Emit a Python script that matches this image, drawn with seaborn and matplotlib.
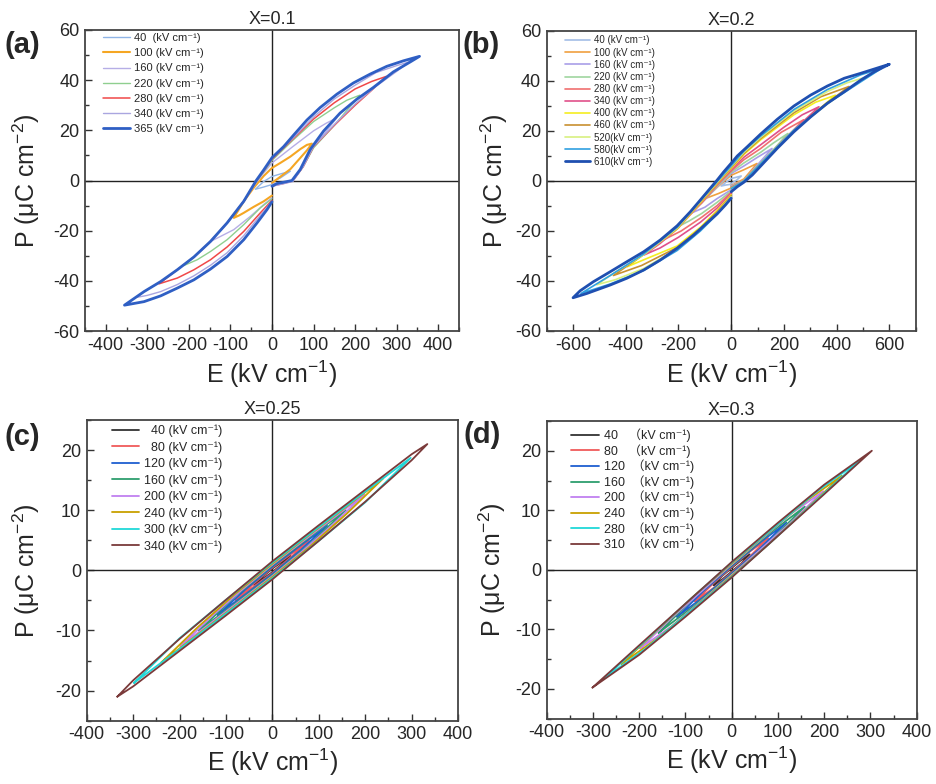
import numpy as np
import pandas as pd
import matplotlib
matplotlib.use("Agg")
import matplotlib.pyplot as plt
import seaborn as sns
from matplotlib.ticker import MultipleLocator

SUP1 = "\u207b\u00b9"  # superscript -1

# ---------------- panel (a): X=0.1 ----------------
A_FIELDS = ["40 ", "100", "160", "220", "280", "340", "365"]
A_E = [
    [0, 20, 44, 20, 0, -20, -40, -20, 0],
    [0, 20, 44, 68, 84, 96, 84, 68, 44, 20, 0, -20, -44, -68, -92, -80, -68, -44, -20, 0],
    [0, 25, 50, 75, 100, 130, 156, 130, 100, 50, 0, -20, -38, -68, -108, -148, -124, -92, -52, -20, 0],
    [0, 25, 50, 75, 100, 150, 211, 180, 150, 100, 50, 0, -20, -38, -68, -108, -148, -180, -212,
     -180, -148, -108, -68, -28, 0],
    [0, 25, 50, 75, 100, 150, 200, 240, 275, 240, 200, 150, 100, 50, 0, -20, -38, -68, -108, -148, -188, -228,
     -272, -228, -188, -148, -108, -68, -28, 0],
    [0, 25, 50, 75, 100, 150, 200, 250, 300, 330, 300, 250, 200, 150, 100, 50, 0, -20, -38, -68, -108, -148,
     -188, -228, -268, -300, -326, -300, -268, -228, -188, -148, -108, -68, -36, 0],
    [0, 12, 28, 48, 68, 92, 124, 164, 204, 244, 292, 333, 355,
     316, 276, 236, 196, 156, 116, 84, 52, 28, 0, -20, -38, -68, -108, -148, -188, -228, -268, -308, -355,
     -308, -268, -228, -188, -148, -108, -68, -36, -12, 0],
]
A_P = [
    [-0.5, 1.0, 3.7, 2.6, 1.6, -0.4, -3.5, -2.6, -1.6],
    [-1.0, 1.5, 4.5, 9.0, 12.0, 14.7, 14.2, 12.5, 9.5, 7.0, 5.0, 1.8, -2.9, -8.3, -14.9, -14.0, -12.9, -10.5,
     -8.3, -6.0],
    [-1.5, -1.0, 0.0, 5.5, 13.5, 19.5, 25.0, 22.8, 19.8, 13.5, 7.0, 3.0, -0.8, -8.3, -16.9, -24.3, -22.3, -19.6,
     -14.3, -9.6, -6.9],
    [-2.0, -1.2, 0.0, 5.5, 13.0, 22.0, 34.0, 32.0, 29.0, 23.5, 16.0, 8.0, 3.5, -0.5, -8.3, -16.9, -24.3, -29.3,
     -33.9, -31.6, -28.3, -23.6, -17.6, -10.9, -7.3],
    [-2.2, -1.3, -0.2, 5.5, 13.5, 22.0, 30.0, 36.0, 41.5, 39.5, 36.5, 31.0, 24.5, 16.5, 8.5, 3.8, -0.3, -8.3,
     -16.9, -24.3, -30.5, -35.6, -41.2, -38.9, -35.6, -31.6, -26.5, -20.3, -12.9, -7.9],
    [-2.3, -1.4, -0.4, 5.5, 13.6, 22.3, 30.5, 37.5, 43.5, 47.3, 45.8, 43.0, 38.0, 32.5, 25.3, 16.8, 8.8, 4.0,
     -0.2, -8.3, -16.9, -24.3, -30.5, -35.6, -40.3, -43.5, -46.6, -45.8, -44.3, -41.5, -38.0, -33.8, -28.8,
     -22.0, -15.5, -8.3],
    [-2.3, -1.2, -0.7, 0.0, 4.4, 12.4, 19.7, 26.9, 32.4, 37.1, 43.3, 47.3, 49.5,
     47.7, 45.5, 42.4, 38.9, 34.4, 29.1, 24.1, 18.1, 13.5, 9.1, 4.2, 0.0, -8.3, -16.9, -24.3, -30.5, -35.6,
     -40.3, -44.3, -49.7,
     -48.3, -46.0, -42.9, -39.6, -35.3, -30.3, -23.6, -16.9, -11.6, -8.5],
]

# ---------------- panel (b): X=0.2 ----------------
B_FIELDS = ["40 ", "100 ", "160 ", "220 ", "280 ", "340 ", "400 ", "460 ", "520", "580", "610"]
B_E = [
    [0, 20, 38, 20, 0, -20, -38, -20, 0],
    [0, 48, 98, 48, 0, -48, -98, -48, 0],
    [0, 48, 100, 155, 100, 48, 0, -53, -100, -155, -100, -53, 0],
    [0, 48, 112, 160, 215, 160, 112, 48, 0, -53, -112, -160, -215, -160, -112, -53, 0],
    [0, 48, 112, 190, 275, 190, 112, 48, 0, -53, -112, -190, -275, -190, -112, -53, 0],
    [0, 48, 112, 200, 270, 333, 270, 200, 112, 48, 0, -53, -117, -200, -270, -333, -270, -200, -117, -53, 0],
    [0, 48, 112, 238, 320, 395, 320, 238, 112, 48, 0, -53, -117, -205, -320, -395, -320, -205, -117, -53, 0],
    [0, 48, 112, 238, 340, 447, 340, 238, 112, 48, 0, -53, -117, -205, -340, -447, -340, -205, -117, -53, 0],
    [0, 48, 112, 238, 365, 440, 510, 440, 365, 238, 112, 48, 0, -53, -117, -205, -332, -440, -510, -440, -332,
     -205, -117, -53, 0],
    [0, 48, 112, 238, 365, 492, 570, 492, 365, 238, 112, 48, 0, -53, -117, -205, -332, -459, -570, -459, -332,
     -205, -117, -53, 0],
    [0, 23, 48, 80, 112, 175, 238, 302, 365, 429, 492, 543, 600,
     543, 492, 429, 365, 302, 238, 175, 112, 61, 23, 0, -28, -53, -85, -117, -155, -205, -269, -332, -396, -459,
     -523, -573, -600,
     -548, -459, -396, -332, -269, -205, -142, -91, -53, -22, 0],
]
B_P = [
    [-1.0, 0.3, 2.0, 1.5, 1.0, -0.5, -2.0, -1.6, -1.3],
    [-1.8, 0.8, 7.0, 4.5, 2.3, -2.0, -7.0, -5.0, -2.8],
    [-2.0, 0.2, 6.5, 13.0, 9.5, 6.0, 3.0, -2.3, -7.5, -13.0, -10.5, -7.0, -3.5],
    [-2.3, 0.0, 7.2, 12.5, 19.0, 15.2, 11.5, 7.2, 3.5, -2.0, -8.7, -13.5, -19.0, -16.0, -13.0, -8.5, -4.0],
    [-2.5, 0.0, 7.0, 15.5, 24.5, 19.5, 13.0, 8.5, 4.0, -1.6, -8.8, -17.0, -24.5, -20.0, -14.5, -9.8, -4.5],
    [-2.6, 0.0, 7.0, 16.5, 23.5, 29.7, 26.5, 21.5, 14.5, 9.5, 4.5, -1.3, -9.0, -18.7, -25.0, -29.7, -26.8, -22.5,
     -16.5, -10.8, -5.0],
    [-2.8, 0.0, 7.0, 20.0, 27.5, 34.3, 31.5, 26.5, 16.5, 10.6, 5.0, -1.0, -8.8, -19.2, -28.5, -34.3, -31.0, -26.0,
     -18.5, -11.8, -5.5],
    [-2.8, 0.0, 7.0, 20.2, 29.3, 37.8, 33.7, 27.3, 17.0, 11.0, 5.4, -0.8, -8.5, -19.0, -30.0, -37.8, -33.8, -26.6,
     -19.0, -12.3, -5.9],
    [-3.0, 0.0, 7.0, 20.3, 30.8, 36.5, 41.5, 39.3, 35.8, 28.0, 17.5, 11.5, 5.8, -0.5, -8.2, -18.8, -29.5, -36.5,
     -41.5, -39.5, -35.0, -27.2, -19.5, -12.8, -6.3],
    [-3.0, 0.0, 7.0, 20.4, 31.0, 39.7, 45.0, 42.5, 36.6, 28.6, 18.0, 12.0, 6.1, -0.2, -7.8, -18.5, -29.2, -37.8,
     -45.0, -41.2, -35.8, -27.8, -20.0, -13.3, -6.6],
    [-4.3, -2.3, -0.5, 2.4, 6.0, 13.1, 19.7, 25.7, 31.1, 35.7, 40.4, 43.7, 46.7,
     44.8, 43.1, 41.1, 38.0, 34.4, 30.0, 24.7, 18.8, 13.7, 10.0, 7.1, 3.7, 0.4, -3.6, -7.6, -12.3, -17.9, -23.6,
     -28.3, -32.3, -36.3, -40.3, -43.9, -46.7,
     -45.0, -41.6, -38.9, -35.6, -31.6, -26.9, -21.6, -16.7, -13.1, -9.6, -6.9],
]

# ---------------- panel (c): X=0.25 ----------------
C_FIELDS = ["  40", "  80", "120", "160", "200", "240", "300", "340"]
C_E = [
    [-39, -20, 0, 20, 39, 20, 0, -20, -39],
    [-79, -40, 0, 40, 79, 40, 0, -40, -79],
    [-118, -60, 0, 60, 118, 60, 0, -60, -118],
    [-158, -80, 0, 80, 158, 80, 0, -80, -158],
    [-198, -130, -65, 0, 65, 130, 198, 130, 65, 0, -65, -130, -198],
    [-239, -160, -80, 0, 80, 160, 239, 160, 80, 0, -80, -160, -239],
    [-298, -200, -100, 0, 100, 200, 298, 200, 100, 0, -100, -200, -298],
    [-334, -300, -200, -100, 0, 100, 200, 300, 334, 300, 200, 100, 0, -100, -200, -300, -334],
]
C_P = [
    [-2.4, -1.4, -0.3, 1.0, 2.4, 1.4, 0.3, -1.0, -2.4],
    [-4.9, -2.7, -0.45, 2.2, 4.9, 2.7, 0.45, -2.2, -4.9],
    [-7.4, -4.1, -0.6, 3.3, 7.4, 4.1, 0.6, -3.3, -7.4],
    [-10.0, -5.5, -0.8, 4.3, 10.0, 5.5, 0.8, -4.3, -10.0],
    [-12.6, -8.6, -4.8, -0.95, 3.2, 7.6, 12.6, 8.6, 4.8, 0.95, -3.2, -7.6, -12.6],
    [-15.3, -10.6, -5.9, -1.1, 3.9, 9.4, 15.3, 10.6, 5.9, 1.1, -3.9, -9.4, -15.3],
    [-18.7, -13.1, -7.2, -1.3, 4.9, 11.3, 18.7, 13.1, 7.2, 1.3, -4.9, -11.3, -18.7],
    [-21.0, -19.3, -13.4, -7.5, -1.5, 4.9, 11.4, 18.3, 21.0, 19.3, 13.4, 7.5, 1.5, -4.9, -11.4, -18.3, -21.0],
]

# ---------------- panel (d): X=0.3 ----------------
D_FIELDS = ["40", "80", "120", "160", "200", "240", "280", "310"]
D_E = [
    [-39, -20, 0, 20, 39, 20, 0, -20, -39],
    [-79, -40, 0, 40, 79, 40, 0, -40, -79],
    [-118, -60, 0, 60, 118, 60, 0, -60, -118],
    [-158, -80, 0, 80, 158, 80, 0, -80, -158],
    [-198, -130, -65, 0, 65, 130, 198, 130, 65, 0, -65, -130, -198],
    [-238, -160, -80, 0, 80, 160, 238, 160, 80, 0, -80, -160, -238],
    [-278, -185, -90, 0, 90, 185, 278, 185, 90, 0, -90, -185, -278],
    [-301, -200, -100, 0, 100, 200, 303, 200, 100, 0, -100, -200, -301],
]
D_P = [
    [-2.6, -1.6, -0.3, 1.0, 2.6, 1.6, 0.3, -1.0, -2.6],
    [-5.3, -3.1, -0.45, 2.3, 5.3, 3.1, 0.45, -2.3, -5.3],
    [-7.9, -4.5, -0.6, 3.5, 7.9, 4.5, 0.6, -3.5, -7.9],
    [-10.6, -6.0, -0.75, 4.6, 10.6, 6.0, 0.75, -4.6, -10.6],
    [-13.2, -9.5, -5.2, -0.9, 3.6, 8.1, 13.2, 9.5, 5.2, 0.9, -3.6, -8.1, -13.2],
    [-15.8, -11.5, -6.3, -1.05, 4.3, 10.1, 15.8, 11.5, 6.3, 1.05, -4.3, -10.1, -15.8],
    [-18.4, -13.2, -7.0, -1.2, 5.0, 11.8, 18.4, 13.2, 7.0, 1.2, -5.0, -11.8, -18.4],
    [-19.8, -14.3, -7.9, -1.3, 5.7, 12.7, 20.0, 14.3, 7.9, 1.3, -5.7, -12.7, -19.8],
]

TITLES = ["X=0.1", "X=0.2", "X=0.25", "X=0.3"]
PANEL_TAGS = ["(a)", "(b)", "(c)", "(d)"]

A_LABELS = [f + " (kV cm" + SUP1 + ")" for f in A_FIELDS]
B_LABELS = [f + "(kV cm" + SUP1 + ")" for f in B_FIELDS]
C_LABELS = [f + " (kV cm" + SUP1 + ")" for f in C_FIELDS]
D_LABELS = [f.ljust(3) + "  \uff08kV cm" + SUP1 + ")" for f in D_FIELDS]

# ---------------- styles ----------------
A_COLORS = ["#8fb4e6", "#f5a623", "#b6aee6", "#8fcf8f", "#f04848", "#aaa6e0", "#2f5fc4"]
A_WIDTHS = [1.0, 1.5, 1.0, 1.0, 1.1, 1.0, 2.0]
B_COLORS = ["#a3bde6", "#f0a040", "#a99ee8", "#9fd59f", "#f07070", "#e0508a", "#f5ee20", "#c89030",
            "#d8f080", "#30a0e0", "#1f4fb0"]
B_WIDTHS = [1.2] * 10 + [2.0]
CD_COLORS = ["#333333", "#f05a5a", "#1f5fd0", "#2e9e6e", "#c080f0", "#c8a000", "#20d8d8", "#7a3a3a"]
CD_WIDTHS = [1.3] * 8

sns.set_style("ticks")
plt.rcParams['font.family'] = ['Liberation Sans', 'DejaVu Sans', 'Noto Sans CJK SC']
plt.rcParams['mathtext.default'] = 'regular'
plt.rcParams['axes.unicode_minus'] = False

W, H = 937, 784
fig = plt.figure(figsize=(W / 100, H / 100), dpi=100)


def rect(l, t, r, b):
    return [l / W, 1 - b / H, (r - l) / W, (b - t) / H]


panels = [
    dict(rect=rect(85, 30, 459, 331), E=A_E, P=A_P, labels=A_LABELS, colors=A_COLORS, widths=A_WIDTHS,
         xlim=(-450, 450), ylim=(-60, 60), xmaj=100, xmin=50, ymaj=20, ymin=10,
         leg=dict(anchor=(0.048, 0.99), fs=8, hl=2.4, ls=0.47), ylab_x=-0.115, xlab_y=-0.093, tag=(4, 45)),
    dict(rect=rect(546.7, 31, 915.7, 331), E=B_E, P=B_P, labels=B_LABELS, colors=B_COLORS, widths=B_WIDTHS,
         xlim=(-700, 700), ylim=(-60, 60), xmaj=200, xmin=100, ymaj=20, ymin=10,
         leg=dict(anchor=(0.050, 0.985), fs=7, hl=2.6, ls=0.22), ylab_x=-0.100, xlab_y=-0.093, tag=(463, 45)),
    dict(rect=rect(86.7, 420, 458, 720.7), E=C_E, P=C_P, labels=C_LABELS, colors=CD_COLORS, widths=CD_WIDTHS,
         xlim=(-400, 400), ylim=(-25, 25), xmaj=100, xmin=50, ymaj=10, ymin=5,
         leg=dict(anchor=(0.068, 0.985), fs=9, hl=2.2, ls=0.32), ylab_x=-0.120, xlab_y=-0.087, tag=(4, 437)),
    dict(rect=rect(546.7, 421, 916.7, 718.5), E=D_E, P=D_P, labels=D_LABELS, colors=CD_COLORS, widths=CD_WIDTHS,
         xlim=(-400, 400), ylim=(-25, 25), xmaj=100, xmin=50, ymaj=10, ymin=5,
         leg=dict(anchor=(0.066, 0.975), fs=9, hl=2.2, ls=0.15), ylab_x=-0.105, xlab_y=-0.087, tag=(464, 435)),
]

for i, pn in enumerate(panels):
    ax = fig.add_axes(pn["rect"])
    ax.axhline(0, color="#222222", lw=1.0, zorder=1)
    ax.axvline(0, color="#222222", lw=1.0, zorder=1)
    for e, p, lab, c, w in zip(pn["E"], pn["P"], pn["labels"], pn["colors"], pn["widths"]):
        df = pd.DataFrame({"E": e, "P": p})
        sns.lineplot(data=df, x="E", y="P", sort=False, estimator=None, ax=ax, color=c, lw=w,
                     label=lab, zorder=3)
    ax.set_xlim(*pn["xlim"])
    ax.set_ylim(*pn["ylim"])
    ax.xaxis.set_major_locator(MultipleLocator(pn["xmaj"]))
    ax.xaxis.set_minor_locator(MultipleLocator(pn["xmin"]))
    ax.yaxis.set_major_locator(MultipleLocator(pn["ymaj"]))
    ax.yaxis.set_minor_locator(MultipleLocator(pn["ymin"]))
    ax.tick_params(which="both", direction="in", top=False, right=False, labelsize=13,
                   color="#333333", width=1.0)
    ax.tick_params(which="major", length=5, pad=4)
    ax.tick_params(which="minor", length=3)
    for s in ax.spines.values():
        s.set_color("#444444")
        s.set_linewidth(1.3)
    ax.set_xlabel("E (kV cm$^{-1}$)", fontsize=18)
    ax.set_ylabel("P (\u03bcC cm$^{-2}$)", fontsize=18)
    ax.xaxis.set_label_coords(0.5, pn["xlab_y"])
    ax.yaxis.set_label_coords(pn["ylab_x"], 0.5)
    ax.set_title(TITLES[i], fontsize=13, pad=4)
    lg = pn["leg"]
    ax.legend(loc="upper left", bbox_to_anchor=lg["anchor"], frameon=False, fontsize=lg["fs"],
              handlelength=lg["hl"], handletextpad=0.4, labelspacing=lg["ls"], borderpad=0,
              borderaxespad=0)
    fig.text(pn["tag"][0] / W, 1 - pn["tag"][1] / H, PANEL_TAGS[i], fontsize=21, fontweight="bold",
             va="center", ha="left")

fig.savefig("out.png", dpi=100)
